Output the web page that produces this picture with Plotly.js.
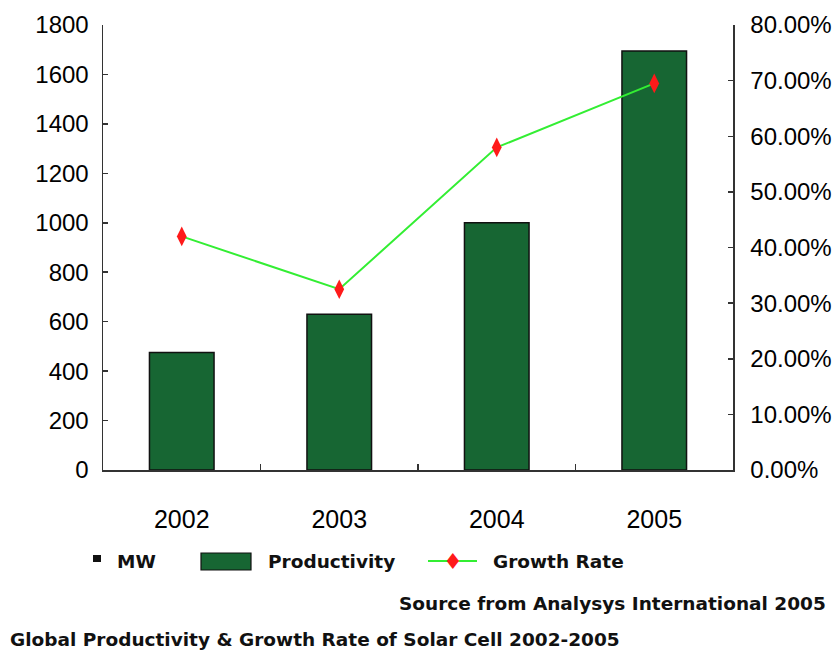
<!DOCTYPE html>
<html>
<head>
<meta charset="utf-8">
<script src="https://cdn.plot.ly/plotly-3.0.1.min.js"></script>
<style>html,body{margin:0;padding:0;background:#fff;}#chart{width:839px;height:651px;}</style>
</head>
<body>
<div id="chart"></div>
<script>
var years = ["2002", "2003", "2004", "2005"];
var productivityMW = [475, 630, 1000, 1695];
var growthRate = [0.42, 0.325, 0.58, 0.695];
var leftTicks = [0, 200, 400, 600, 800, 1000, 1200, 1400, 1600, 1800];
var rightTicks = [0, 0.1, 0.2, 0.3, 0.4, 0.5, 0.6, 0.7, 0.8];

var barColor = "#176633";
var lineColor = "#33ee33";
var markerColor = "#ff1a1a";
var tickFont = {family: "Liberation Sans, Arial, sans-serif", size: 24, color: "#000"};
var xTickFont = {family: "Liberation Sans, Arial, sans-serif", size: 25, color: "#000"};
var boldFont = {family: "DejaVu Sans, Verdana, sans-serif", size: 18.5, color: "#111", weight: 700};

function px(x) { return (x - 103) / 630; }
function py(y) { return (470 - y) / 445; }

var traces = [
  {
    type: "bar", x: years, y: productivityMW, name: "Productivity",
    width: 0.41,
    marker: {color: barColor, line: {color: "#111", width: 1.5}},
    showlegend: false, hoverinfo: "x+y"
  },
  {
    type: "scatter", mode: "lines+markers", x: years, y: growthRate, yaxis: "y2",
    name: "Growth Rate",
    line: {color: lineColor, width: 2},
    marker: {symbol: "diamond-tall", size: 14, color: markerColor},
    showlegend: false
  }
];

var layout = {
  width: 839, height: 651,
  margin: {l: 103, r: 106, t: 25, b: 181},
  paper_bgcolor: "#fff", plot_bgcolor: "#fff",
  showlegend: false,
  xaxis: {
    type: "category", range: [-0.5, 3.5],
    showline: true, linecolor: "#333", linewidth: 1.5,
    ticks: "inside", tickson: "boundaries", ticklen: 6, tickcolor: "#333", tickwidth: 1.5,
    tickfont: xTickFont, ticklabelstandoff: 26,
    showgrid: false, zeroline: false, fixedrange: true
  },
  yaxis: {
    range: [0, 1800], tickvals: leftTicks,
    showline: true, linecolor: "#333", linewidth: 1.5,
    ticks: "inside", ticklen: 5, tickcolor: "#333", tickwidth: 1.5,
    tickfont: tickFont, ticklabelstandoff: 8,
    showgrid: false, zeroline: false, fixedrange: true
  },
  yaxis2: {
    overlaying: "y", side: "right", range: [0, 0.8], tickvals: rightTicks,
    tickformat: ".2%",
    showline: true, linecolor: "#333", linewidth: 1.5,
    ticks: "inside", ticklen: 5, tickcolor: "#333", tickwidth: 1.5,
    tickfont: tickFont, ticklabelstandoff: 11,
    showgrid: false, zeroline: false, fixedrange: true
  },
  shapes: [
    {type: "rect", xref: "paper", yref: "paper", x0: px(93), x1: px(101), y0: py(562), y1: py(555), fillcolor: "#111", line: {width: 0}},
    {type: "rect", xref: "paper", yref: "paper", x0: px(201), x1: px(251), y0: py(570), y1: py(553), fillcolor: barColor, line: {color: "#111", width: 1.2}},
    {type: "line", xref: "paper", yref: "paper", x0: px(428), x1: px(477), y0: py(561), y1: py(561), line: {color: lineColor, width: 2}}
  ],
  annotations: [
    {xref: "paper", yref: "paper", x: px(115), y: py(561), xanchor: "left", yanchor: "middle", text: "MW", showarrow: false, font: boldFont},
    {xref: "paper", yref: "paper", x: px(266), y: py(561), xanchor: "left", yanchor: "middle", text: "Productivity", showarrow: false, font: boldFont},
    {xref: "paper", yref: "paper", x: px(453), y: py(561), xanchor: "center", yanchor: "middle", text: "\u2666", showarrow: false, font: {family: "DejaVu Sans", size: 22, color: markerColor}},
    {xref: "paper", yref: "paper", x: px(491), y: py(561), xanchor: "left", yanchor: "middle", text: "Growth Rate", showarrow: false, font: boldFont},
    {xref: "paper", yref: "paper", x: px(828), y: py(603), xanchor: "right", yanchor: "middle", text: "Source from Analysys International 2005", showarrow: false, font: boldFont},
    {xref: "paper", yref: "paper", x: px(8), y: py(639), xanchor: "left", yanchor: "middle", text: "Global Productivity &amp; Growth Rate of Solar Cell 2002-2005", showarrow: false, font: boldFont}
  ]
};

Plotly.newPlot("chart", traces, layout, {displayModeBar: false, staticPlot: true});
</script>
</body>
</html>
